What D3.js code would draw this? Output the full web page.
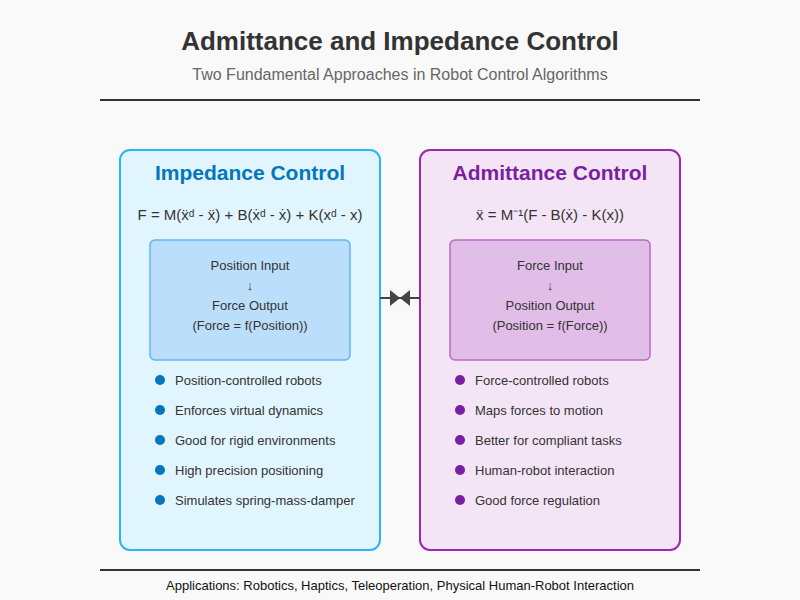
<!DOCTYPE html>
<html><head><meta charset="utf-8">
<script src="https://cdn.jsdelivr.net/npm/d3@7"></script>
<style>body{margin:0;background:#f9f9f9}text{font-family:"Liberation Sans",Arial,sans-serif}</style>
</head><body><svg id="c" width="800" height="600"></svg>
<script>
const title = "Admittance and Impedance Control"
const subtitle = "Two Fundamental Approaches in Robot Control Algorithms"
const footer = "Applications: Robotics, Haptics, Teleoperation, Physical Human-Robot Interaction"
const panels = [
  {name: "Impedance Control", formula: "F = M(ẍᵈ - ẍ) + B(ẋᵈ - ẋ) + K(xᵈ - x)",
   flow: ["Position Input", "↓", "Force Output", "(Force = f(Position))"],
   bullets: ["Position-controlled robots", "Enforces virtual dynamics", "Good for rigid environments", "High precision positioning", "Simulates spring-mass-damper"],
   fill: "#e1f5fe", stroke: "#29b6f6", head: "#0277bd", boxFill: "#bbdefb", boxStroke: "#64b5f6"},
  {name: "Admittance Control", formula: "ẍ = M⁻¹(F - B(ẋ) - K(x))",
   flow: ["Force Input", "↓", "Position Output", "(Position = f(Force))"],
   bullets: ["Force-controlled robots", "Maps forces to motion", "Better for compliant tasks", "Human-robot interaction", "Good force regulation"],
   fill: "#f3e5f5", stroke: "#9c27b0", head: "#7b1fa2", boxFill: "#e1bee7", boxStroke: "#ba68c8"}
]
const svg = d3.select("#c")
svg.append("rect").attr("width", 800).attr("height", 600).attr("fill", "#f9f9f9")
svg.append("text").attr("x", 400).attr("y", 50).attr("text-anchor", "middle")
  .attr("font-size", 26).attr("font-weight", "bold").attr("fill", "#333").text(title)
svg.append("text").attr("x", 400).attr("y", 80).attr("text-anchor", "middle")
  .attr("font-size", 16).attr("fill", "#666").text(subtitle)
svg.append("line").attr("x1", 100).attr("x2", 700).attr("y1", 100).attr("y2", 100).attr("stroke", "#333").attr("stroke-width", 2)
svg.append("line").attr("x1", 100).attr("x2", 700).attr("y1", 570).attr("y2", 570).attr("stroke", "#333").attr("stroke-width", 2)
svg.append("text").attr("x", 400).attr("y", 590).attr("text-anchor", "middle")
  .attr("font-size", 13).attr("fill", "#111").text(footer)

const x = d3.scaleBand().domain(panels.map(p => p.name)).range([80, 720]).paddingInner(40 / 300).paddingOuter(40 / 300)
panels.forEach(p => {
  const g = svg.append("g").attr("transform", `translate(${x(p.name)},150)`)
  const w = x.bandwidth()
  g.append("rect").attr("width", w).attr("height", 400).attr("rx", 10)
    .attr("fill", p.fill).attr("stroke", p.stroke).attr("stroke-width", 2)
  g.append("text").attr("x", w / 2).attr("y", 30).attr("text-anchor", "middle")
    .attr("font-size", 21).attr("font-weight", "bold").attr("fill", p.head).text(p.name)
  g.append("text").attr("x", w / 2).attr("y", 70).attr("text-anchor", "middle")
    .attr("font-size", 15).attr("fill", "#333").text(p.formula)
  g.append("rect").attr("x", 30).attr("y", 90).attr("width", 200).attr("height", 120).attr("rx", 5)
    .attr("fill", p.boxFill).attr("stroke", p.boxStroke).attr("stroke-width", 1.5)
  p.flow.forEach((t, i) => g.append("text").attr("x", w / 2).attr("y", 120 + i * 20)
    .attr("text-anchor", "middle").attr("font-size", 13).attr("fill", "#333").text(t))
  p.bullets.forEach((t, i) => {
    g.append("circle").attr("cx", 40).attr("cy", 230 + i * 30).attr("r", 5).attr("fill", p.head)
    g.append("text").attr("x", 55).attr("y", 235 + i * 30).attr("font-size", 13).attr("fill", "#333").text(t)
  })
})
// center arrows
const mid = 400, ay = 298
svg.append("line").attr("x1", 380).attr("x2", 420).attr("y1", ay).attr("y2", ay).attr("stroke", "#444").attr("stroke-width", 2)
svg.append("path").attr("d", `M${mid - 10},${ay - 8}L${mid},${ay}L${mid - 10},${ay + 8}Z`).attr("fill", "#444")
svg.append("path").attr("d", `M${mid + 10},${ay - 8}L${mid},${ay}L${mid + 10},${ay + 8}Z`).attr("fill", "#444")
</script></body></html>
